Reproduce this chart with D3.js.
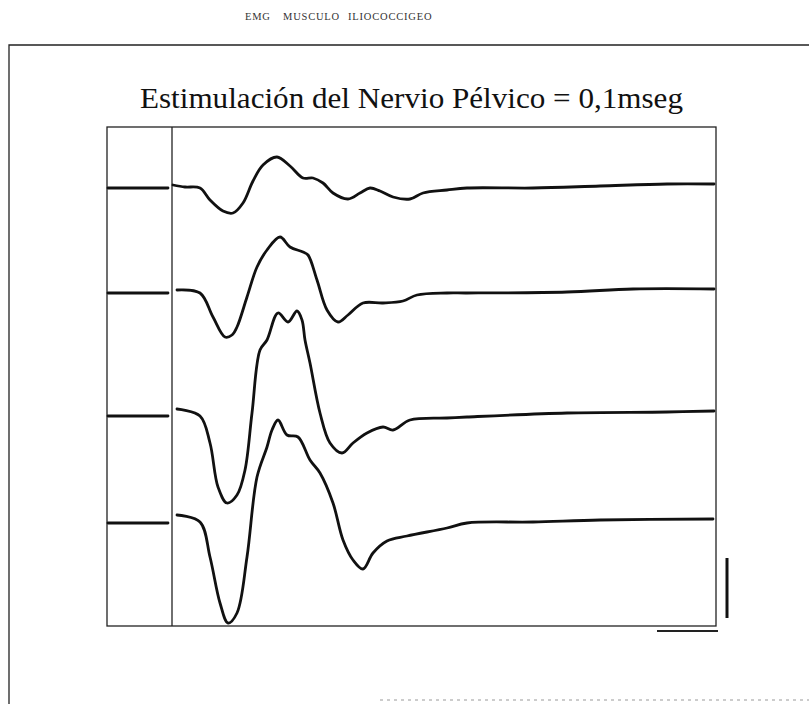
<!DOCTYPE html>
<html>
<head>
<meta charset="utf-8">
<script src="https://cdn.jsdelivr.net/npm/d3@7"></script>
<style>
  body { margin: 0; background: #fff; }
  svg { display: block; }
  .frame { fill: none; stroke: #222; stroke-width: 1.3; }
  .trace { fill: none; stroke: #111; stroke-width: 2.8; stroke-linejoin: round; stroke-linecap: round; }
</style>
</head>
<body>
<div id="chart"></div>
<script>
// EMG traces, pelvic nerve stimulation (time in ms from stimulus, amplitude in chart units)
const title = 'Estimulación del Nervio Pélvico = 0,1mseg';
const header = ['EMG', 'MUSCULO', 'ILIOCOCCIGEO'];

// baseline offset of each sweep, top to bottom
const offsets = [43.8, 33.3, 21.0, 10.3];

// pre-stimulus baseline, shared by every sweep
const preStim = [[-6.4, 0], [-3.5, 0], [-0.4, 0]];

const trace1 = [
  [0.1, 0.3], [1.3, 0.1], [2.8, 0], [3.8, -1.2], [5.1, -2.3], [6.1, -2.5], [7.1, -1.5],
  [8.1, 0.7], [9.1, 2.3], [10.5, 3.1], [11.8, 2.2], [13.1, 1.0], [14.1, 1.0], [15.1, 0.5],
  [16.1, -0.5], [17.6, -1.1], [18.8, -0.5], [19.8, 0], [20.8, -0.3], [22.1, -0.9],
  [23.8, -1.1], [25.1, -0.5], [27.5, -0.2], [29.5, 0], [36.1, 0], [42.8, 0.2], [49.5, 0.4], [54.2, 0.4]
];
const trace2 = [
  [0.5, 0.3], [2.8, 0], [4.1, -2.4], [5.3, -4.4], [6.0, -4.2], [6.5, -3.4], [7.5, -0.4],
  [8.5, 2.6], [9.5, 4.3], [10.8, 5.6], [11.8, 4.6], [13.1, 4.1], [13.6, 3.8], [14.5, 1.3],
  [15.5, -1.7], [16.6, -2.9], [17.6, -2.2], [19.1, -1.0], [21.1, -1.0], [23.1, -0.8],
  [24.5, -0.2], [27.5, 0], [29.5, 0], [39.5, 0.1], [46.1, 0.4], [54.2, 0.4]
];
const trace3 = [
  [0.5, 0.7], [2.8, 0], [3.8, -2.7], [4.6, -7.1], [5.5, -8.7], [6.5, -7.9], [7.3, -5.4],
  [8.0, 0.3], [8.8, 6.6], [9.5, 7.6], [10.6, 10.3], [11.6, 9.4], [12.5, 10.5], [13.0, 9.6],
  [13.3, 7.6], [13.8, 5.3], [14.8, 0.3], [15.8, -2.7], [17.0, -3.7], [18.1, -2.7],
  [19.5, -1.7], [21.1, -1.1], [22.1, -1.4], [23.8, -0.4], [27.5, -0.2], [29.5, -0.1],
  [39.5, 0.3], [49.5, 0.4], [54.2, 0.5]
];
const trace4 = [
  [0.5, 0.8], [2.8, 0.1], [3.8, -3.4], [4.8, -8.0], [5.6, -10.0], [6.5, -9.0], [7.5, -3.4],
  [8.5, 4.6], [9.5, 7.6], [10.0, 9.3], [10.6, 10.3], [11.5, 8.8], [12.6, 8.6], [13.8, 6.3],
  [14.8, 5.0], [16.1, 2.0], [17.1, -1.7], [18.1, -3.7], [19.1, -4.6], [20.1, -3.0],
  [21.5, -1.8], [23.5, -1.3], [27.5, -0.5], [29.5, 0], [36.1, 0.1], [42.8, 0.3], [54.1, 0.4]
];
const traces = [trace1, trace2, trace3, trace4];

// calibration bars: 6 ms, 6 units
const calTime = [48.5, 54.6];
const calAmp = [0.8, 6.8];

const W = 809, H = 704;
const plot = {left: 107, right: 716, top: 127, bottom: 626};

const svg = d3.select('#chart').append('svg')
  .attr('width', W)
  .attr('height', H);

const x = d3.scaleLinear().domain([-6.5, 54.4]).range([plot.left, plot.right]);
const y = d3.scaleLinear().domain([0, 49.9]).range([plot.bottom, plot.top]);

// page header
svg.append('g')
  .attr('font-family', 'Liberation Serif, serif')
  .attr('font-size', 10.5)
  .attr('fill', '#333')
  .attr('letter-spacing', 0.8)
  .selectAll('text')
  .data(header)
  .enter()
  .append('text')
  .attr('x', (d, i) => [245, 283, 348][i])
  .attr('y', 20)
  .text(d => d);

// outer box (open at right and bottom, as on the sheet)
svg.append('path')
  .attr('class', 'frame')
  .attr('d', `M${W},45 L9,45 L9,${H}`);
svg.append('line')
  .attr('x1', 380).attr('x2', W)
  .attr('y1', 700).attr('y2', 700)
  .attr('stroke', '#999')
  .attr('stroke-width', 1)
  .attr('stroke-dasharray', '3,4');

svg.append('text')
  .attr('x', 411.5)
  .attr('y', 108)
  .attr('text-anchor', 'middle')
  .attr('font-family', 'Liberation Serif, serif')
  .attr('font-size', 30)
  .attr('fill', '#111')
  .attr('textLength', 543)
  .attr('lengthAdjust', 'spacingAndGlyphs')
  .text(title);

// recording window
svg.append('rect')
  .attr('class', 'frame')
  .attr('x', plot.left)
  .attr('y', plot.top)
  .attr('width', plot.right - plot.left)
  .attr('height', plot.bottom - plot.top);

// stimulus marker
svg.append('line')
  .attr('class', 'frame')
  .attr('stroke-width', 2)
  .attr('x1', x(0)).attr('x2', x(0))
  .attr('y1', plot.top).attr('y2', plot.bottom);

const line = d3.line()
  .curve(d3.curveCatmullRom.alpha(0.5));

const g = svg.append('g');
traces.forEach((tr, i) => {
  const off = offsets[i];
  g.append('path')
    .attr('class', 'trace')
    .attr('d', line(preStim.map(d => [x(d[0]), y(d[1] + off)])));
  g.append('path')
    .attr('class', 'trace')
    .attr('d', line(tr.map(d => [x(d[0]), y(d[1] + off)])));
});

// calibration
svg.append('line')
  .attr('stroke', '#111').attr('stroke-width', 3)
  .attr('x1', x(55.5)).attr('x2', x(55.5))
  .attr('y1', y(calAmp[0])).attr('y2', y(calAmp[1]));
svg.append('line')
  .attr('stroke', '#222').attr('stroke-width', 1.8)
  .attr('x1', x(calTime[0])).attr('x2', x(calTime[1]))
  .attr('y1', y(-0.5)).attr('y2', y(-0.5));
</script>
</body>
</html>
